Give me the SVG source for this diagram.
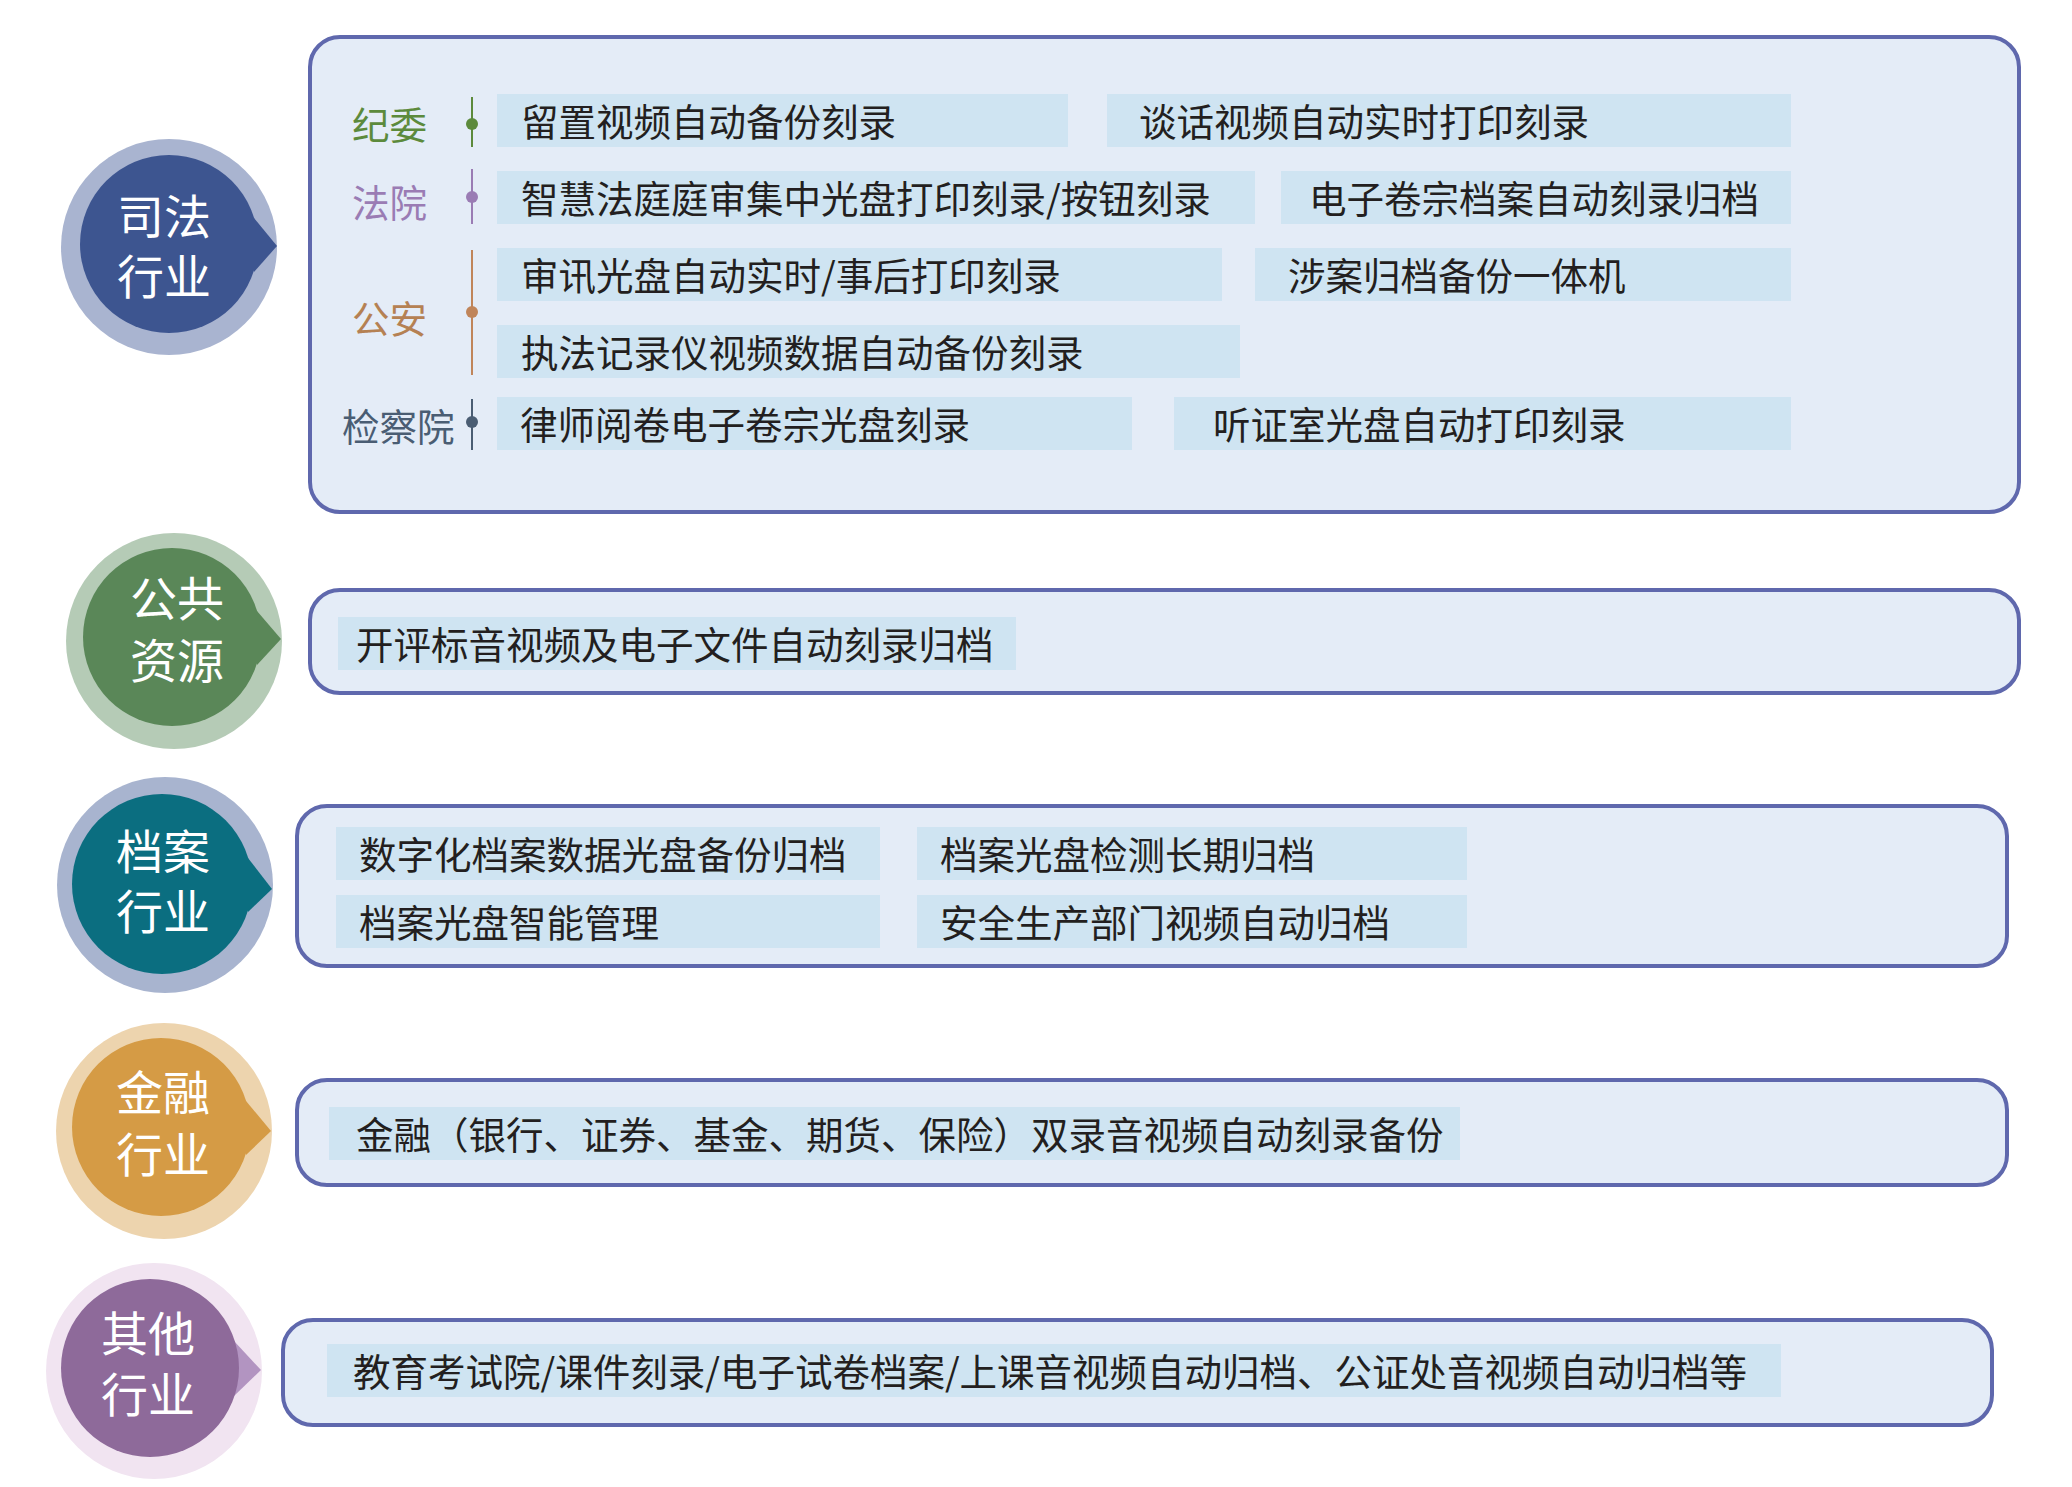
<svg xmlns="http://www.w3.org/2000/svg" width="2072" height="1487" viewBox="0 0 2072 1487">
<style>
.panel{fill:#e4ecf7;stroke:#5f68ad;stroke-width:4}
.item{fill:#cfe4f2}
.t{font-family:"Noto Sans CJK SC","Noto Sans",sans-serif;font-size:37.5px;fill:#231f20}
.ct{font-family:"Noto Sans CJK SC","Noto Sans",sans-serif;font-size:47px;fill:#ffffff;text-anchor:middle}
.lb{font-family:"Noto Sans CJK SC","Noto Sans",sans-serif;font-size:37.5px}
</style>
<rect width="2072" height="1487" fill="#ffffff"/>

<g id="circle-sifa">
<circle cx="169" cy="247" r="108" fill="#a9b4d0"/>
<circle cx="169" cy="244" r="89" fill="#3d5590"/>
<polygon points="254,218 277,246 254,272" fill="#3d5590"/>
<text class="ct" x="164" y="234">司法</text>
<text class="ct" x="164" y="294">行业</text>
</g>

<g id="panel-sifa">
<rect class="panel" x="310" y="37" width="1709" height="475" rx="30"/>
<g class="lb">
<text x="352" y="139" fill="#5c8a3c">纪委</text>
<text x="352" y="217" fill="#9a7cb4">法院</text>
<text x="352" y="333" fill="#b58153">公安</text>
<text x="342" y="441" fill="#4a5d73">检察院</text>
</g>
<g stroke-width="2">
<line x1="472" y1="97" x2="472" y2="147" stroke="#5c8a3c"/>
<circle cx="472" cy="124" r="6" fill="#5c8a3c"/>
<line x1="472" y1="169" x2="472" y2="224" stroke="#9a7cb4"/>
<circle cx="472" cy="197" r="6" fill="#9a7cb4"/>
<line x1="472" y1="250" x2="472" y2="375" stroke="#c0855a"/>
<circle cx="472" cy="312" r="6" fill="#c0855a"/>
<line x1="472" y1="399" x2="472" y2="450" stroke="#4a5d73"/>
<circle cx="472" cy="422" r="6" fill="#4a5d73"/>
</g>
<rect class="item" x="497" y="94" width="571" height="53"/>
<rect class="item" x="1107" y="94" width="684" height="53"/>
<rect class="item" x="497" y="171" width="758" height="53"/>
<rect class="item" x="1281" y="171" width="510" height="53"/>
<rect class="item" x="497" y="248" width="725" height="53"/>
<rect class="item" x="1255" y="248" width="536" height="53"/>
<rect class="item" x="497" y="325" width="743" height="53"/>
<rect class="item" x="497" y="397" width="635" height="53"/>
<rect class="item" x="1174" y="397" width="617" height="53"/>
<text class="t" x="521" y="136">留置视频自动备份刻录</text>
<text class="t" x="1139" y="136">谈话视频自动实时打印刻录</text>
<text class="t" x="521" y="213">智慧法庭庭审集中光盘打印刻录/按钮刻录</text>
<text class="t" x="1309" y="213">电子卷宗档案自动刻录归档</text>
<text class="t" x="521" y="290">审讯光盘自动实时/事后打印刻录</text>
<text class="t" x="1288" y="290">涉案归档备份一体机</text>
<text class="t" x="521" y="367">执法记录仪视频数据自动备份刻录</text>
<text class="t" x="520" y="439">律师阅卷电子卷宗光盘刻录</text>
<text class="t" x="1213" y="439">听证室光盘自动打印刻录</text>
</g>

<g id="circle-gonggong">
<circle cx="174" cy="641" r="108" fill="#b5cbb6"/>
<circle cx="172" cy="637" r="89" fill="#5a8758"/>
<polygon points="257,611 281,639 257,665" fill="#5a8758"/>
<text class="ct" x="177" y="616">公共</text>
<text class="ct" x="177" y="678">资源</text>
</g>

<g id="panel-gonggong">
<rect class="panel" x="310" y="590" width="1709" height="103" rx="30"/>
<rect class="item" x="338" y="617" width="678" height="53"/>
<text class="t" x="356" y="659">开评标音视频及电子文件自动刻录归档</text>
</g>

<g id="circle-dangan">
<circle cx="165" cy="885" r="108" fill="#a8b4cf"/>
<circle cx="162" cy="884" r="90" fill="#0b6e80"/>
<polygon points="248,858 272,889 248,912" fill="#0b6e80"/>
<text class="ct" x="163" y="869">档案</text>
<text class="ct" x="163" y="929">行业</text>
</g>

<g id="panel-dangan">
<rect class="panel" x="297" y="806" width="1710" height="160" rx="30"/>
<rect class="item" x="336" y="827" width="544" height="53"/>
<rect class="item" x="917" y="827" width="550" height="53"/>
<rect class="item" x="336" y="895" width="544" height="53"/>
<rect class="item" x="917" y="895" width="550" height="53"/>
<text class="t" x="359" y="869">数字化档案数据光盘备份归档</text>
<text class="t" x="940" y="869">档案光盘检测长期归档</text>
<text class="t" x="359" y="937">档案光盘智能管理</text>
<text class="t" x="940" y="937">安全生产部门视频自动归档</text>
</g>

<g id="circle-jinrong">
<circle cx="164" cy="1131" r="108" fill="#edd4ae"/>
<circle cx="161" cy="1127" r="89" fill="#d59b45"/>
<polygon points="246,1101 271,1131 246,1155" fill="#d59b45"/>
<text class="ct" x="163" y="1110">金融</text>
<text class="ct" x="163" y="1172">行业</text>
</g>

<g id="panel-jinrong">
<rect class="panel" x="297" y="1080" width="1710" height="105" rx="30"/>
<rect class="item" x="329" y="1107" width="1131" height="53"/>
<text class="t" x="356" y="1149">金融（银行、证券、基金、期货、保险）双录音视频自动刻录备份</text>
</g>

<g id="circle-qita">
<circle cx="154" cy="1371" r="108" fill="#f1e4f1"/>
<polygon points="234,1341 261,1370 234,1396" fill="#b294c1"/>
<circle cx="150" cy="1368" r="89" fill="#8e6a9a"/>
<text class="ct" x="148" y="1351">其他</text>
<text class="ct" x="148" y="1412">行业</text>
</g>

<g id="panel-qita">
<rect class="panel" x="283" y="1320" width="1709" height="105" rx="30"/>
<rect class="item" x="327" y="1344" width="1454" height="53"/>
<text class="t" x="353" y="1386">教育考试院/课件刻录/电子试卷档案/上课音视频自动归档、公证处音视频自动归档等</text>
</g>

<g id="connectors"></g>
</svg>
